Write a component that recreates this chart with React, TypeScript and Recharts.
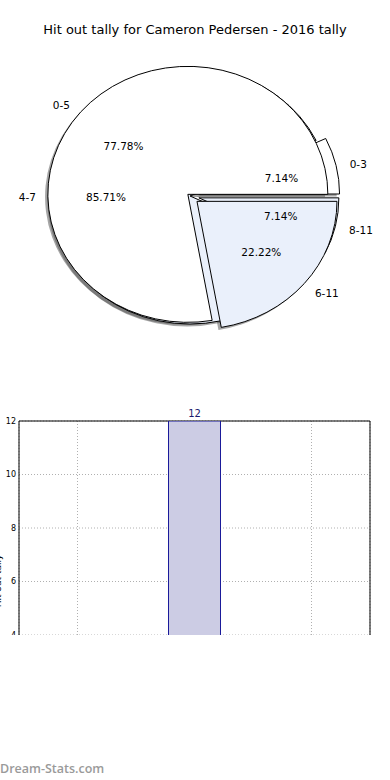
import React from 'react';
import {
  PieChart,
  Pie,
  BarChart,
  Bar,
  XAxis,
  YAxis,
  CartesianGrid,
  ReferenceArea,
  LabelList,
} from 'recharts';

// ---------- data ----------
const TITLE = 'Hit out tally for Cameron Pedersen - 2016 tally';
const OUTER_NAMES = ['0-3', '4-7', '8-11'];
const OUTER_VALUES = [1, 12, 1];
const INNER_NAMES = ['0-5', '6-11'];
const INNER_VALUES = [7, 2];
const BAR_X = [0];
const BAR_VALUES = [12];
const Y_TICKS = [4, 6, 8, 10, 12];
const X_TICKS = [-1, 0, 1];
const Y_LABEL = 'Hit out tally';
const WATERMARK = 'Dream-Stats.com';

const outerData = OUTER_NAMES.map((name, i) => ({ name, value: OUTER_VALUES[i] }));
const innerData = INNER_NAMES.map((name, i) => ({ name, value: INNER_VALUES[i] }));
const barData = BAR_X.map((x, i) => ({ x, value: BAR_VALUES[i] }));

// ---------- styles ----------
const FONT = '"DejaVu Sans", sans-serif';
const RAD = Math.PI / 180;
const ASPECT = 128 / 140;
const EXPLODE: Record<string, number> = { '0-3': 0.07, '4-7': 0, '8-11': 0.065, '0-5': 0.02, '6-11': 0.065 };
const FILLS: Record<string, string> = {
  '0-3': '#ffffff',
  '4-7': '#eaf0fb',
  '8-11': '#eaf0fb',
  '0-5': '#ffffff',
  '6-11': '#eaf0fb',
};
const TEXT_DY = 1;

function wedgePath(cx: number, cy: number, rx: number, ry: number, a0: number, a1: number) {
  const x0 = cx + rx * Math.cos(a0 * RAD);
  const y0 = cy - ry * Math.sin(a0 * RAD);
  const x1 = cx + rx * Math.cos(a1 * RAD);
  const y1 = cy - ry * Math.sin(a1 * RAD);
  const large = Math.abs(a1 - a0) > 180 ? 1 : 0;
  return `M${cx},${cy} L${x0},${y0} A${rx},${ry} 0 ${large} 0 ${x1},${y1} Z`;
}

function nameOf(props: any): string {
  return (props.payload && props.payload.name) || props.name;
}

function makeShape(kind: 'shadow' | 'wedge' | 'none') {
  return (props: any) => {
    const { cx, cy, outerRadius, startAngle, endAngle } = props;
    const nm = nameOf(props);
    if (kind === 'none') return <g />;
    const rx = outerRadius;
    const ry = outerRadius * ASPECT;
    const mid = (startAngle + endAngle) / 2;
    const e = EXPLODE[nm] ?? 0;
    let ox = cx + e * rx * Math.cos(mid * RAD);
    let oy = cy - e * ry * Math.sin(mid * RAD);
    if (kind === 'shadow') {
      ox += -0.02 * rx;
      oy += 0.02 * ry;
      return <path d={wedgePath(ox, oy, rx, ry, startAngle, endAngle)} fill="#4d4d4d" fillOpacity={0.5} stroke="none" />;
    }
    return (
      <path
        d={wedgePath(ox, oy, rx, ry, startAngle, endAngle)}
        fill={FILLS[nm] ?? '#fff'}
        stroke="#000"
        strokeWidth={1}
        strokeLinejoin="miter"
      />
    );
  };
}

const renderLabel = (props: any) => {
  const { cx, cy, midAngle, outerRadius, percent } = props;
  const nm = nameOf(props);
  const rx = outerRadius;
  const ry = outerRadius * ASPECT;
  const e = EXPLODE[nm] ?? 0;
  const c = Math.cos(midAngle * RAD);
  const s = Math.sin(midAngle * RAD);
  const ox = cx + e * rx * c;
  const oy = cy - e * ry * s;
  const lx = ox + 1.1 * rx * c;
  const ly = oy - 1.1 * ry * s;
  const px = ox + 0.6 * rx * c;
  const py = oy - 0.6 * ry * s;
  return (
    <g>
      <text
        x={lx}
        y={ly + TEXT_DY}
        textAnchor={c > 0 ? 'start' : 'end'}
        dominantBaseline="central"
        fontFamily={FONT}
        fontSize={10.5}
        fill="#000"
      >
        {nm}
      </text>
      <text
        x={px}
        y={py + TEXT_DY}
        textAnchor="middle"
        dominantBaseline="central"
        fontFamily={FONT}
        fontSize={10.5}
        fill="#000"
      >
        {(percent * 100).toFixed(2) + '%'}
      </text>
    </g>
  );
};

const shadowShape = makeShape('shadow');
const wedgeShape = makeShape('wedge');
const noneShape = makeShape('none');
const emptyTick = () => <g />;

const PIE_CX = 190;
const PIE_CY = 196;
const PIE_R = 140;

export default function App() {
  const pieCommon = {
    dataKey: 'value',
    nameKey: 'name',
    cx: PIE_CX,
    cy: PIE_CY,
    outerRadius: PIE_R,
    innerRadius: 0,
    startAngle: 0,
    endAngle: 360,
    isAnimationActive: false,
    labelLine: false,
  } as any;
  return (
    <div
      style={{
        position: 'absolute',
        left: 0,
        top: 0,
        width: 390,
        height: 780,
        background: '#fff',
        overflow: 'hidden',
      }}
    >
      <div
        style={{
          position: 'absolute',
          left: 0,
          top: 21,
          width: 390,
          textAlign: 'center',
          fontFamily: FONT,
          fontSize: 13,
          lineHeight: '18px',
          color: '#000',
        }}
      >
        {TITLE}
      </div>
      <div style={{ position: 'absolute', left: 0, top: 0 }}>
        <PieChart width={390} height={380} margin={{ top: 0, right: 0, bottom: 0, left: 0 }}>
          <Pie {...pieCommon} data={outerData} shape={shadowShape} fill="none" stroke="none" />
          <Pie {...pieCommon} data={innerData} shape={shadowShape} fill="none" stroke="none" />
          <Pie {...pieCommon} data={outerData} shape={wedgeShape} fill="none" stroke="none" />
          <Pie {...pieCommon} data={innerData} shape={wedgeShape} fill="none" stroke="none" />
          <Pie {...pieCommon} data={outerData} shape={noneShape} fill="none" stroke="none" label={renderLabel} />
          <Pie {...pieCommon} data={innerData} shape={noneShape} fill="none" stroke="none" label={renderLabel} />
        </PieChart>
      </div>

      <div style={{ position: 'absolute', left: 0, top: 400, width: 390, height: 235, overflow: 'hidden' }}>
        <BarChart width={390} height={370} data={barData} margin={{ top: 21, right: 20, bottom: 0, left: 0 }}>
          <CartesianGrid stroke="#b0b0b0" strokeDasharray="1 2" />
          <XAxis
            type="number"
            dataKey="x"
            domain={[-1.5, 1.5]}
            ticks={X_TICKS}
            height={28}
            tick={emptyTick}
            axisLine={false}
            tickLine={false}
            allowDataOverflow
          />
          <YAxis
            type="number"
            domain={[0, 12]}
            ticks={Y_TICKS}
            width={19}
            axisLine={false}
            tickLine={false}
            tickSize={0}
            tickMargin={3}
            tick={{ fontSize: 8, fill: '#000', fontFamily: FONT }}
            allowDataOverflow
          />
          <ReferenceArea x1={-1.5} x2={1.5} y1={0} y2={12} fill="none" stroke="#000" strokeWidth={1} ifOverflow="visible" />
          <Bar dataKey="value" barSize={52} fill="#ccccE4" stroke="#1a1a9a" strokeWidth={1} isAnimationActive={false}>
            <LabelList dataKey="value" position="top" offset={4} fill="#1a1a6e" fontSize={10} fontFamily={FONT} />
          </Bar>
        </BarChart>
      </div>

      <div
        style={{
          position: 'absolute',
          left: -2,
          top: 581,
          transform: 'translate(-50%, -50%) rotate(-90deg)',
          whiteSpace: 'nowrap',
          fontFamily: FONT,
          fontSize: 9,
          lineHeight: '10px',
          color: '#000',
        }}
      >
        {Y_LABEL}
      </div>

      <div
        style={{
          position: 'absolute',
          left: 0,
          top: 761,
          fontFamily: '"Open Sans", sans-serif',
          fontWeight: 600,
          fontSize: 12.5,
          lineHeight: '16px',
          color: '#9a9a9a',
          whiteSpace: 'nowrap',
        }}
      >
        {WATERMARK}
      </div>
    </div>
  );
}
